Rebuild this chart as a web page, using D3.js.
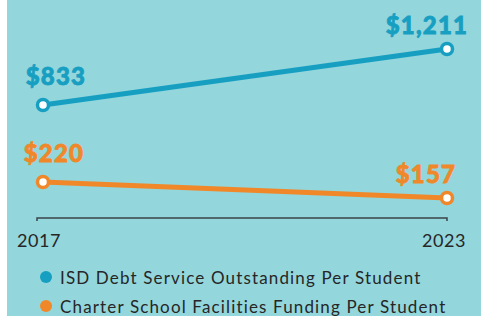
<!DOCTYPE html>
<html>
<head>
<meta charset="utf-8">
<script src="https://cdn.jsdelivr.net/npm/d3@7"></script>
<style>
  body { margin: 0; background: #fff; }
  svg { display: block; }
  .val { font-family: Lato, sans-serif; font-weight: 900; font-size: 24px; letter-spacing: 1.2px; stroke-width: 0.8px; }
  .year { font-family: Lato, sans-serif; font-size: 18px; fill: #262626; letter-spacing: 0.5px; }
  .legend text { font-family: Lato, sans-serif; font-size: 17px; fill: #262626; letter-spacing: 1.15px; }
</style>
</head>
<body>
<svg id="chart"></svg>
<script>
const chartSize = { width: 481, height: 316 };

const years = ["2017", "2023"];
const isdDebt = [833, 1211];
const charterFunding = [220, 157];
const seriesNames = [
  "ISD Debt Service Outstanding Per Student",
  "Charter School Facilities Funding Per Student"
];
const colors = ["#179fc2", "#f0882a"];

const svg = d3.select("#chart")
  .attr("width", chartSize.width)
  .attr("height", chartSize.height);

svg.append("rect")
  .attr("x", 7).attr("y", 0)
  .attr("width", chartSize.width - 7)
  .attr("height", chartSize.height)
  .attr("fill", "#93d6dc");

const x = d3.scalePoint().domain(years).range([43, 447]);

// each series sits in its own band
const yBlue = d3.scaleLinear().domain(d3.extent(isdDebt)).range([105, 49]);
const yOrange = d3.scaleLinear().domain(d3.extent(charterFunding)).range([198, 182]);

// axis
const axisG = svg.append("g").attr("transform", "translate(0,218)");
axisG.append("path")
  .attr("d", `M${x.range()[0] - 6},3V0H${x.range()[1]}V3`)
  .attr("fill", "none")
  .attr("stroke", "#3a4448")
  .attr("stroke-width", 1.5);

svg.selectAll(".year")
  .data(years)
  .enter().append("text")
  .attr("class", "year")
  .attr("x", (d, i) => x(d) + (i === 0 ? -4 : -3))
  .attr("y", 247)
  .attr("text-anchor", "middle")
  .text(d => d);

const fmt = d3.format("$,");

const drawSeries = function(values, y, color, labelOffsets) {
  const pts = values.map((v, i) => ({ year: years[i], v }));
  const line = d3.line().x(d => x(d.year)).y(d => y(d.v));
  svg.append("path")
    .attr("d", line(pts))
    .attr("fill", "none")
    .attr("stroke", color)
    .attr("stroke-width", 5);
  svg.selectAll(null)
    .data(pts)
    .enter().append("circle")
    .attr("cx", d => x(d.year))
    .attr("cy", d => y(d.v))
    .attr("r", 5.5)
    .attr("fill", "#fff")
    .attr("stroke", color)
    .attr("stroke-width", 3.5);
  svg.selectAll(null)
    .data(pts)
    .enter().append("text")
    .attr("class", "val")
    .attr("fill", color)
    .attr("stroke", color)
    .attr("x", (d, i) => x(d.year) + labelOffsets[i])
    .attr("y", (d, i) => y(d.v) - (i === 0 ? 20 : 15))
    .attr("text-anchor", "middle")
    .text(d => fmt(d.v));
};

drawSeries(isdDebt, yBlue, colors[0], [13, -20]);
drawSeries(charterFunding, yOrange, colors[1], [11, -21]);

// legend
const legend = svg.append("g").attr("class", "legend");
const items = legend.selectAll("g")
  .data(seriesNames)
  .enter().append("g")
  .attr("transform", (d, i) => `translate(0,${277 + i * 29})`);
items.append("circle")
  .attr("cx", 46).attr("cy", 0).attr("r", 6)
  .attr("fill", (d, i) => colors[i]);
items.append("text")
  .attr("x", 60).attr("y", 7)
  .text(d => d);
</script>
</body>
</html>
